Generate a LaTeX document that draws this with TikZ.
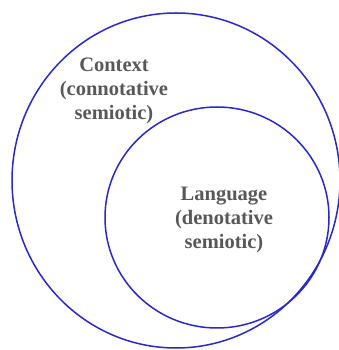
\documentclass[tikz,border=0pt]{standalone}
\usepackage{fontspec}
\setmainfont{Liberation Serif}
\usetikzlibrary{shapes.geometric}
\definecolor{ringblue}{RGB}{40,40,205}
\definecolor{labelgray}{RGB}{88,88,88}
\begin{document}
\begin{tikzpicture}[x=1pt,y=1pt,
  ring/.style={draw=ringblue, line width=1.5pt, ellipse, inner sep=0pt},
  label/.style={align=center, text=labelgray, inner sep=0pt,
    font=\fontsize{20.5}{24}\selectfont\bfseries}]
\useasboundingbox (0,0) rectangle (339,350);
% outer ring: context
\node[ring, minimum width=328pt, minimum height=335pt] (context) at (176,169.5) {};
% inner ring: language
\node[ring, minimum width=224pt, minimum height=221pt] (language) at (217,132.5) {};
\node[label] (contextlabel) at (114,259) {Context\\(connotative\\semiotic)};
\node[label] (languagelabel) at (224,130) {Language\\(denotative\\semiotic)};
\end{tikzpicture}
\end{document}
